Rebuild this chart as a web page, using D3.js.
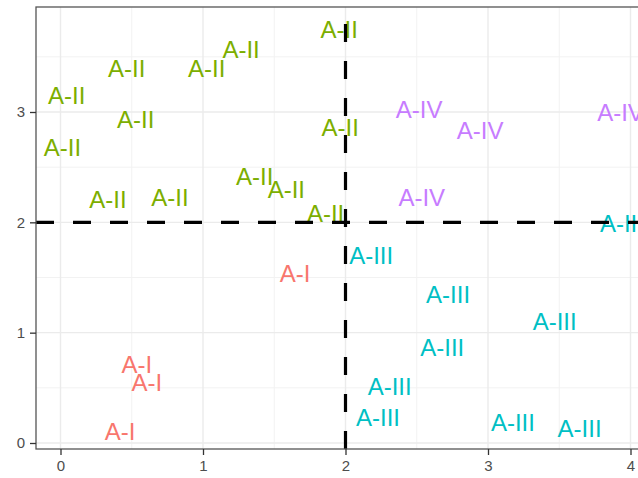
<!DOCTYPE html>
<html>
<head>
<meta charset="utf-8">
<script src="https://cdn.jsdelivr.net/npm/d3@7"></script>
<style>
  html, body { margin: 0; padding: 0; background: #fff; }
  svg { display: block; }
</style>
</head>
<body>
<svg id="chart" width="638" height="478"></svg>
<script>
// ---- data ----
const groups = ["A-I", "A-II", "A-III", "A-IV"];
const groupSizes = [4, 13, 9, 4];
const groupColors = ["#F8766D", "#7CAE00", "#00BFC4", "#C77CFF"];
const xValues = [
  1.646, 0.535, 0.605, 0.418,
  0.465, 1.026, 1.267, 0.044, 0.528, 0.014, 0.333, 0.768, 1.363, 1.585, 1.86, 1.956, 1.963,
  3.94, 2.18, 2.72, 3.468, 2.679, 2.31, 2.228, 3.175, 3.643,
  2.517, 2.945, 2.535, 3.93
];
const yValues = [
  1.534, 0.71, 0.551, 0.109,
  3.397, 3.40, 3.57, 3.15, 2.936, 2.68, 2.21, 2.23, 2.42, 2.30, 2.085, 3.75, 2.86,
  1.99, 1.70, 1.35, 1.103, 0.866, 0.514, 0.234, 0.189, 0.136,
  3.028, 2.838, 2.226, 2.996
];
const xTicks = [0, 1, 2, 3, 4];
const yTicks = [0, 1, 2, 3];
const xMinor = [-0.5, 0.5, 1.5, 2.5, 3.5, 4.5];
const yMinor = [0.5, 1.5, 2.5, 3.5];
const vLine = 2, hLine = 2;

const pointLabels = [];
groups.forEach((g, gi) => { for (let i = 0; i < groupSizes[gi]; i++) pointLabels.push(g); });
const points = pointLabels.map((g, i) => ({ label: g, x: xValues[i], y: yValues[i] }));

// ---- layout ----
const svg = d3.select("#chart");
const panel = { left: 36, top: 7, right: 660, bottom: 449 };
const x = d3.scaleLinear().domain([0, 4]).range([60.5, 630.5]);
const y = d3.scaleLinear().domain([0, 3]).range([443, 112]);
const color = d3.scaleOrdinal().domain(groups).range(groupColors);

const defs = svg.append("defs");
defs.append("clipPath").attr("id", "panelClip")
  .append("rect")
  .attr("x", panel.left).attr("y", panel.top)
  .attr("width", panel.right - panel.left).attr("height", panel.bottom - panel.top);

const g = svg.append("g").attr("clip-path", "url(#panelClip)");
g.append("rect")
  .attr("x", panel.left).attr("y", panel.top)
  .attr("width", panel.right - panel.left).attr("height", panel.bottom - panel.top)
  .attr("fill", "#fff");

// minor grid
g.selectAll(".xminor").data(xMinor).join("line")
  .attr("x1", d => x(d)).attr("x2", d => x(d))
  .attr("y1", panel.top).attr("y2", panel.bottom)
  .attr("stroke", "#F2F2F2").attr("stroke-width", 1);
g.selectAll(".yminor").data(yMinor).join("line")
  .attr("y1", d => y(d)).attr("y2", d => y(d))
  .attr("x1", panel.left).attr("x2", panel.right)
  .attr("stroke", "#F2F2F2").attr("stroke-width", 1);
// major grid
g.selectAll(".xmajor").data(xTicks).join("line")
  .attr("x1", d => x(d)).attr("x2", d => x(d))
  .attr("y1", panel.top).attr("y2", panel.bottom)
  .attr("stroke", "#EBEBEB").attr("stroke-width", 1.4);
g.selectAll(".ymajor").data(yTicks).join("line")
  .attr("y1", d => y(d)).attr("y2", d => y(d))
  .attr("x1", panel.left).attr("x2", panel.right)
  .attr("stroke", "#EBEBEB").attr("stroke-width", 1.4);

// text labels
g.selectAll(".lbl").data(points).join("text")
  .attr("x", d => x(d.x)).attr("y", d => y(d.y))
  .attr("dy", "0.36em")
  .attr("text-anchor", "middle")
  .attr("font-family", "Liberation Sans, Arial, sans-serif")
  .attr("font-size", 24)
  .attr("fill", d => color(d.label))
  .text(d => d.label);

// dashed reference lines
g.append("line")
  .attr("x1", x(vLine)).attr("x2", x(vLine))
  .attr("y1", panel.bottom).attr("y2", panel.top)
  .attr("stroke", "#000").attr("stroke-width", 3.2)
  .attr("stroke-dasharray", "18,19");
g.append("line")
  .attr("x1", panel.left).attr("x2", panel.right)
  .attr("y1", y(hLine)).attr("y2", y(hLine))
  .attr("stroke", "#000").attr("stroke-width", 3.2)
  .attr("stroke-dasharray", "18,19");

// panel border
svg.append("rect")
  .attr("x", panel.left).attr("y", panel.top)
  .attr("width", panel.right - panel.left).attr("height", panel.bottom - panel.top)
  .attr("fill", "none").attr("stroke", "#555").attr("stroke-width", 1.3);

// axes
const xAxis = d3.axisBottom(x).tickValues(xTicks).tickSize(6).tickPadding(5).tickFormat(d3.format("d"));
const yAxis = d3.axisLeft(y).tickValues(yTicks).tickSize(6).tickPadding(5).tickFormat(d3.format("d"));
const gx = svg.append("g").attr("transform", `translate(0,${panel.bottom})`).call(xAxis);
const gy = svg.append("g").attr("transform", `translate(${panel.left},0)`).call(yAxis);
[gx, gy].forEach(a => {
  a.select(".domain").remove();
  a.selectAll(".tick line").attr("stroke", "#333").attr("stroke-width", 1.3);
  a.selectAll(".tick text").attr("fill", "#4D4D4D")
    .attr("font-family", "Liberation Sans, Arial, sans-serif").attr("font-size", 15);
});
</script>
</body>
</html>
